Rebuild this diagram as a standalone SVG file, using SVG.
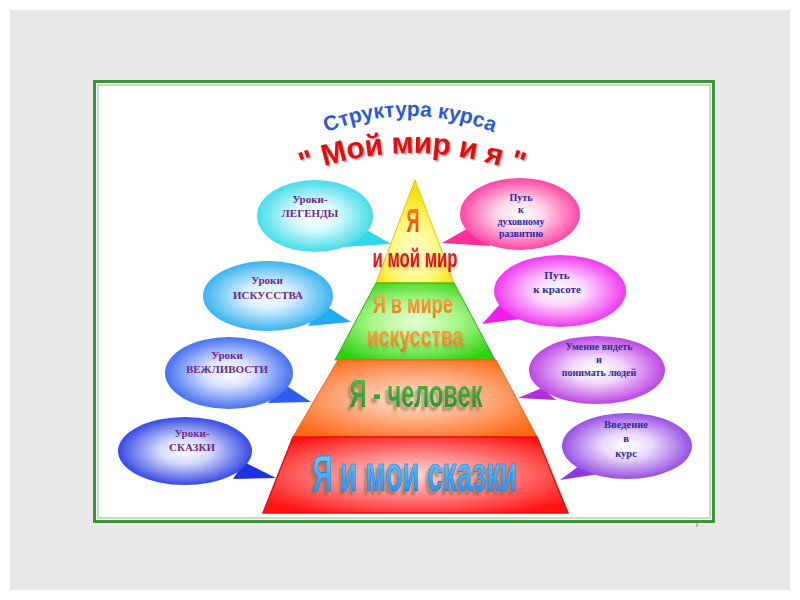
<svg xmlns="http://www.w3.org/2000/svg" width="800" height="600" viewBox="0 0 800 600">
<defs>
<style>
.wa{font-family:"Liberation Sans Narrow","Liberation Sans",Arial,sans-serif;font-weight:bold;text-anchor:middle}
.bt{font-family:"Liberation Serif","Times New Roman",serif;font-weight:bold;font-size:11px;text-anchor:middle}
.pl{fill:#6a2a88}
.bl{fill:#2a2aa0}
.title{font-family:"Liberation Sans",Arial,sans-serif;font-weight:bold}
</style>
<filter id="sh3d" x="-10%" y="-20%" width="120%" height="150%"><feDropShadow dx="-3" dy="4" stdDeviation="0.800" flood-color="#7a6a40" flood-opacity="0.55"/></filter>
<filter id="shSoft" x="-10%" y="-20%" width="120%" height="150%"><feDropShadow dx="1" dy="3" stdDeviation="1" flood-color="#806030" flood-opacity="0.3"/></filter>
<filter id="shTitle" x="-10%" y="-20%" width="120%" height="150%"><feDropShadow dx="1.500" dy="1.500" stdDeviation="0.600" flood-color="#8a1010" flood-opacity="0.35"/></filter>
<radialGradient id="gCyan" cx="0.5" cy="0.5" r="0.55"><stop offset="0" stop-color="#ffffff"/><stop offset="0.35" stop-color="#d8fafc"/><stop offset="1" stop-color="#2ed8e6"/></radialGradient>
<radialGradient id="gPink" cx="0.5" cy="0.5" r="0.55"><stop offset="0" stop-color="#ffffff"/><stop offset="0.35" stop-color="#ffd8ea"/><stop offset="1" stop-color="#ff2e98"/></radialGradient>
<radialGradient id="gSky" cx="0.5" cy="0.5" r="0.55"><stop offset="0" stop-color="#ffffff"/><stop offset="0.35" stop-color="#d4eefc"/><stop offset="1" stop-color="#22aaee"/></radialGradient>
<radialGradient id="gMag" cx="0.5" cy="0.5" r="0.55"><stop offset="0" stop-color="#ffffff"/><stop offset="0.35" stop-color="#fcd8fc"/><stop offset="1" stop-color="#ee1eee"/></radialGradient>
<radialGradient id="gBlue" cx="0.5" cy="0.5" r="0.55"><stop offset="0" stop-color="#ffffff"/><stop offset="0.35" stop-color="#d8e2fc"/><stop offset="1" stop-color="#2e5ef0"/></radialGradient>
<radialGradient id="gPur" cx="0.5" cy="0.5" r="0.55"><stop offset="0" stop-color="#ffffff"/><stop offset="0.35" stop-color="#f2d8fa"/><stop offset="1" stop-color="#b22ee0"/></radialGradient>
<radialGradient id="gDeep" cx="0.5" cy="0.5" r="0.55"><stop offset="0" stop-color="#ffffff"/><stop offset="0.35" stop-color="#d2d8fa"/><stop offset="1" stop-color="#1e32e0"/></radialGradient>
<radialGradient id="gViol" cx="0.5" cy="0.5" r="0.55"><stop offset="0" stop-color="#ffffff"/><stop offset="0.35" stop-color="#ead8fa"/><stop offset="1" stop-color="#8a3ae0"/></radialGradient>
<radialGradient id="tY" cx="0.5" cy="0.7" r="0.6"><stop offset="0" stop-color="#ffffd0"/><stop offset="0.5" stop-color="#fff880"/><stop offset="1" stop-color="#f4e000"/></radialGradient>
<radialGradient id="tG" cx="0.5" cy="0.5" r="0.6"><stop offset="0" stop-color="#e8ffd8"/><stop offset="0.45" stop-color="#a8f888"/><stop offset="1" stop-color="#30d010"/></radialGradient>
<radialGradient id="tO" cx="0.5" cy="0.5" r="0.6"><stop offset="0" stop-color="#ffe6d8"/><stop offset="0.45" stop-color="#ffb088"/><stop offset="1" stop-color="#ff6a18"/></radialGradient>
<radialGradient id="tR" cx="0.5" cy="0.5" r="0.6"><stop offset="0" stop-color="#ffd8d8"/><stop offset="0.45" stop-color="#ff8888"/><stop offset="1" stop-color="#ff1414"/></radialGradient>
<linearGradient id="fOr" x1="0" y1="0" x2="0" y2="1"><stop offset="0" stop-color="#ff9020"/><stop offset="1" stop-color="#e83808"/></linearGradient>
<linearGradient id="fRed" x1="0" y1="0" x2="0" y2="1"><stop offset="0" stop-color="#ff2a2a"/><stop offset="1" stop-color="#c80808"/></linearGradient>
<linearGradient id="fOr2" x1="0" y1="0" x2="0" y2="1"><stop offset="0" stop-color="#ffb050"/><stop offset="1" stop-color="#e87818"/></linearGradient>
<linearGradient id="fGr" x1="0" y1="0" x2="0" y2="1"><stop offset="0" stop-color="#58c048"/><stop offset="1" stop-color="#1e8a28"/></linearGradient>
<linearGradient id="fCy" x1="0" y1="0" x2="0" y2="1"><stop offset="0" stop-color="#70d8ff"/><stop offset="1" stop-color="#1a86e8"/></linearGradient>
<path id="arc1" d="M300,145.200 A222,222 0 0 1 520,145.200"/>
<path id="arc2" d="M270,188.700 A300,300 0 0 1 554,188.700"/>
</defs>

<rect x="0" y="0" width="800" height="600" fill="#ffffff"/>
<rect x="10" y="10" width="780" height="580" fill="#e8e8e8"/>

<g id="frame">
<rect x="94.500" y="81.500" width="619" height="440" fill="#ffffff" stroke="#3f913f" stroke-width="3"/>
<rect x="98" y="85" width="612" height="433" fill="none" stroke="#8fd08f" stroke-width="1.200"/>
<line x1="697" y1="522" x2="697" y2="527" stroke="#888888" stroke-width="1"/>
</g>

<g id="title">
<text class="title" font-size="21" fill="#2a5ad8"><textPath href="#arc1" startOffset="50%" text-anchor="middle">Структура курса</textPath></text>
<text class="title" font-size="30" fill="#e41010" letter-spacing="-0.3" filter="url(#shTitle)"><textPath href="#arc2" startOffset="50%" text-anchor="middle">" Мой мир и я "</textPath></text>
</g>

<g id="pyramid">
<g id="tier-yellow">
<polygon points="415,180 454,283 376,283" fill="url(#tY)" stroke="#e0c800" stroke-width="1"/>
<text class="wa" x="413" y="232" font-size="34" textLength="13" lengthAdjust="spacingAndGlyphs" fill="url(#fOr)">Я</text>
<text class="wa" x="415" y="267" font-size="26" textLength="85" lengthAdjust="spacingAndGlyphs" fill="url(#fRed)" filter="url(#shSoft)">и мой мир</text>
</g>
<g id="tier-green">
<polygon points="376,283 454,283 495,360 335,360" fill="url(#tG)" stroke="#28b010" stroke-width="1"/>
<text class="wa" x="413" y="313" font-size="25" textLength="80" lengthAdjust="spacingAndGlyphs" fill="url(#fOr2)">Я в мире</text>
<text class="wa" x="415" y="346" font-size="27" textLength="97" lengthAdjust="spacingAndGlyphs" fill="url(#fOr2)" filter="url(#shSoft)">искусства</text>
</g>
<g id="tier-orange">
<polygon points="338,360 496,360 537,437 293,437" fill="url(#tO)" stroke="#f06010" stroke-width="1"/>
<text class="wa" x="416" y="407" font-size="38" textLength="133" lengthAdjust="spacingAndGlyphs" fill="url(#fGr)" filter="url(#sh3d)">Я - человек</text>
</g>
<g id="tier-red">
<polygon points="293,437 537,437 568,513 263,513" fill="url(#tR)" stroke="#e01010" stroke-width="1.500"/>
<text class="wa" x="415" y="491" font-size="50" textLength="205" lengthAdjust="spacingAndGlyphs" fill="url(#fCy)" stroke="#1070c8" stroke-width="0.600" filter="url(#sh3d)">Я и мои сказки</text>
</g>
</g>

<g id="bubbles">
<g id="b-legends">
<polygon points="360,226 391,244 343,247" fill="#2ed8e6"/>
<ellipse cx="315" cy="216" rx="58" ry="36" fill="url(#gCyan)"/>
<text class="bt pl"><tspan x="310" y="203">Уроки-</tspan><tspan x="310" y="217">ЛЕГЕНДЫ</tspan></text>
</g>
<g id="b-spirit">
<polygon points="472,226 442,243 490,246" fill="#ff2e98"/>
<ellipse cx="520" cy="214" rx="60" ry="36" fill="url(#gPink)"/>
<text class="bt bl" style="font-size:10px"><tspan x="521" y="201">Путь</tspan><tspan x="521" y="213">к</tspan><tspan x="521" y="225">духовному</tspan><tspan x="521" y="237">развитию</tspan></text>
</g>
<g id="b-art">
<polygon points="323,304 351,322 308,326" fill="#22aaee"/>
<ellipse cx="268" cy="296" rx="65" ry="35" fill="url(#gSky)"/>
<text class="bt pl"><tspan x="267" y="284">Уроки</tspan><tspan x="268" y="299">ИСКУССТВА</tspan></text>
</g>
<g id="b-beauty">
<polygon points="502,302 482,324 520,319" fill="#ee1eee"/>
<ellipse cx="560" cy="291" rx="66" ry="36" fill="url(#gMag)"/>
<text class="bt bl"><tspan x="557" y="279">Путь</tspan><tspan x="557" y="293">к красоте</tspan></text>
</g>
<g id="b-polite">
<polygon points="284,384 311,402 268,403" fill="#2e5ef0"/>
<ellipse cx="229" cy="373" rx="64" ry="36" fill="url(#gBlue)"/>
<text class="bt pl"><tspan x="227" y="359">Уроки</tspan><tspan x="227" y="373">ВЕЖЛИВОСТИ</tspan></text>
</g>
<g id="b-people">
<polygon points="542,388 518,398 556,400" fill="#b22ee0"/>
<ellipse cx="597" cy="370" rx="68" ry="34" fill="url(#gPur)"/>
<text class="bt bl" style="font-size:10px"><tspan x="599" y="350">Умение видеть</tspan><tspan x="599" y="363">и</tspan><tspan x="599" y="376">понимать людей</tspan></text>
</g>
<g id="b-tales">
<polygon points="244,462 276,478 233,479" fill="#1e32e0"/>
<ellipse cx="185" cy="451" rx="67" ry="34" fill="url(#gDeep)"/>
<text class="bt pl"><tspan x="192" y="437">Уроки-</tspan><tspan x="192" y="451">СКАЗКИ</tspan></text>
</g>
<g id="b-intro">
<polygon points="583,463 560,480 599,474" fill="#8a3ae0"/>
<ellipse cx="627" cy="446" rx="65" ry="33" fill="url(#gViol)"/>
<text class="bt bl" style="font-size:10.500px"><tspan x="626" y="428">Введение</tspan><tspan x="626" y="442">в</tspan><tspan x="626" y="457">курс</tspan></text>
</g>
</g>
<g id="connectors"/>
</svg>
